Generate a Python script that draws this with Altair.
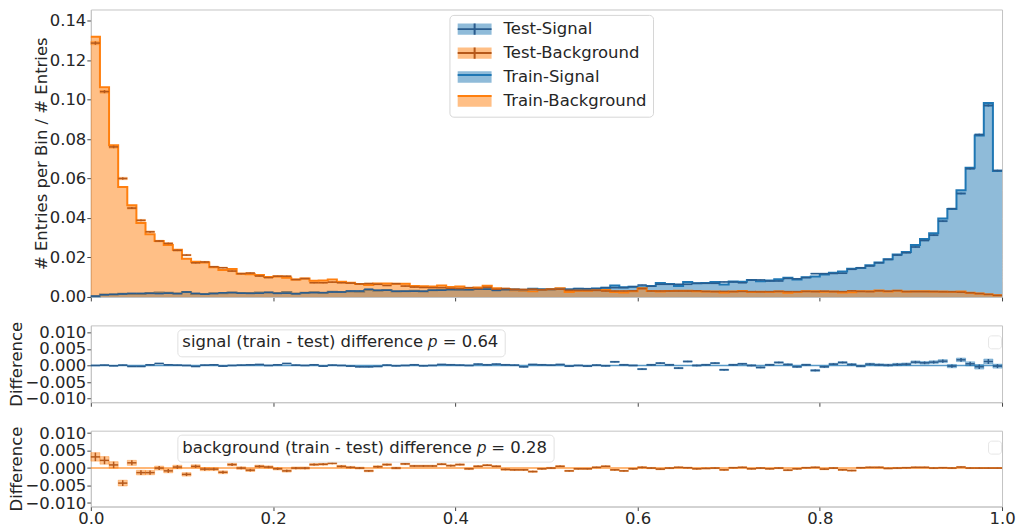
import altair as alt
import numpy as np
import pandas as pd

# ---------------- data ----------------
N_BINS = 100
X_TICKS = [0.0, 0.2, 0.4, 0.6, 0.8, 1.0]
Y_TICKS_TOP = [0.0, 0.02, 0.04, 0.06, 0.08, 0.10, 0.12, 0.14]
Y_TICKS_DIFF = [-0.010, -0.005, 0.0, 0.005, 0.010]

# test histograms (normalised entries per bin), 100 bins on [0, 1]
SIG_TEST = [
    0.0004, 0.0011, 0.0013, 0.0015, 0.0018, 0.0018, 0.0018, 0.0017, 0.0019, 0.0017,
    0.0025, 0.0018, 0.0014, 0.0017, 0.0021, 0.0022, 0.0019, 0.0018, 0.0019, 0.0023,
    0.0018, 0.0019, 0.0016, 0.0021, 0.0022, 0.0022, 0.0025, 0.0025, 0.0030, 0.0030,
    0.0039, 0.0034, 0.0034, 0.0029, 0.0029, 0.0029, 0.0029, 0.0034, 0.0034, 0.0037,
    0.0037, 0.0037, 0.0039, 0.0039, 0.0033, 0.0037, 0.0037, 0.0037, 0.0038, 0.0037,
    0.0038, 0.0039, 0.0039, 0.0042, 0.0042, 0.0042, 0.0047, 0.0047, 0.0047, 0.0052,
    0.0060, 0.0054, 0.0064, 0.0064, 0.0064, 0.0064, 0.0069, 0.0069, 0.0069, 0.0076,
    0.0076, 0.0072, 0.0086, 0.0086, 0.0081, 0.0081, 0.0094, 0.0092, 0.0098, 0.0118,
    0.0118, 0.0119, 0.0120, 0.0140, 0.0148, 0.0157, 0.0173, 0.0190, 0.0212, 0.0224,
    0.0253, 0.0286, 0.0313, 0.0384, 0.0447, 0.0524, 0.0650, 0.0822, 0.0970, 0.0640,
]
BKG_TEST = [
    0.1286, 0.1040, 0.0760, 0.0600, 0.0450, 0.0388, 0.0330, 0.0283, 0.0271, 0.0236,
    0.0212, 0.0173, 0.0177, 0.0153, 0.0148, 0.0131, 0.0118, 0.0121, 0.0106, 0.0098,
    0.0105, 0.0105, 0.0088, 0.0093, 0.0072, 0.0072, 0.0075, 0.0072, 0.0070, 0.0066,
    0.0068, 0.0064, 0.0058, 0.0067, 0.0055, 0.0050, 0.0048, 0.0047, 0.0047, 0.0044,
    0.0043, 0.0047, 0.0043, 0.0049, 0.0039, 0.0043, 0.0039, 0.0038, 0.0039, 0.0037,
    0.0039, 0.0039, 0.0033, 0.0033, 0.0033, 0.0033, 0.0030, 0.0030, 0.0030, 0.0031,
    0.0042, 0.0030, 0.0030, 0.0030, 0.0030, 0.0030, 0.0031, 0.0028, 0.0027, 0.0028,
    0.0027, 0.0028, 0.0027, 0.0026, 0.0027, 0.0028, 0.0027, 0.0027, 0.0028, 0.0027,
    0.0029, 0.0027, 0.0027, 0.0031, 0.0028, 0.0027, 0.0031, 0.0029, 0.0032, 0.0027,
    0.0027, 0.0027, 0.0027, 0.0026, 0.0026, 0.0024, 0.0021, 0.0017, 0.0013, 0.0008,
]
# train - test differences per bin
SIG_DIFF = [
    0.0000, 0.0001, -0.0001, 0.0001, -0.0003, -0.0003, 0.0002, 0.0006, 0.0002, 0.0001,
    0.0000, -0.0003, 0.0001, 0.0002, -0.0002, 0.0000, 0.0001, 0.0002, 0.0003, 0.0000,
    0.0002, 0.0006, 0.0001, 0.0000, 0.0002, -0.0002, 0.0001, 0.0000, -0.0002, -0.0004,
    -0.0004, -0.0003, 0.0001, -0.0001, 0.0000, 0.0002, -0.0001, 0.0000, 0.0003, 0.0002,
    0.0001, 0.0000, 0.0004, 0.0002, 0.0004, 0.0002, 0.0001, -0.0004, 0.0003, 0.0002,
    0.0001, 0.0003, -0.0002, 0.0000, -0.0002, 0.0001, -0.0001, 0.0011, 0.0002, 0.0000,
    -0.0011, 0.0002, 0.0007, 0.0002, -0.0008, 0.0012, 0.0000, 0.0002, 0.0007, -0.0013,
    0.0002, 0.0005, 0.0000, -0.0006, 0.0002, 0.0009, 0.0003, -0.0004, 0.0002, -0.0015,
    -0.0004, 0.0004, 0.0009, 0.0003, -0.0002, 0.0004, 0.0002, 0.0001, 0.0003, 0.0004,
    0.0010, 0.0008, 0.0010, 0.0013, -0.0002, 0.0017, 0.0005, -0.0004, 0.0012, -0.0002,
]
BKG_DIFF = [
    0.0032, 0.0022, 0.0009, -0.0043, 0.0015, -0.0013, -0.0013, 0.0000, -0.0008, 0.0003,
    -0.0018, 0.0005, -0.0003, -0.0003, -0.0012, 0.0010, 0.0000, -0.0006, 0.0005, 0.0003,
    -0.0002, -0.0008, 0.0000, 0.0000, 0.0010, 0.0011, 0.0014, 0.0005, 0.0002, 0.0000,
    -0.0008, 0.0004, 0.0010, 0.0000, 0.0012, 0.0006, 0.0006, 0.0006, 0.0011, 0.0007,
    0.0010, -0.0002, 0.0005, 0.0008, 0.0005, -0.0004, -0.0005, -0.0005, -0.0010, -0.0002,
    0.0000, 0.0005, -0.0008, -0.0002, -0.0002, 0.0002, 0.0005, -0.0005, -0.0008, -0.0002,
    0.0002, 0.0000, -0.0003, 0.0000, 0.0002, 0.0001, -0.0002, -0.0001, 0.0000, -0.0005,
    0.0001, 0.0002, -0.0002, 0.0000, -0.0002, 0.0000, -0.0006, -0.0002, 0.0001, 0.0002,
    -0.0003, 0.0000, -0.0005, -0.0007, 0.0001, 0.0002, 0.0002, -0.0001, 0.0000, 0.0001,
    0.0002, 0.0002, 0.0000, 0.0001, 0.0000, 0.0003, 0.0000, 0.0000, 0.0000, 0.0000,
]
# statistical error scale per series (sigma = K * sqrt(entries))
K_SIG = 0.0017
K_BKG = 0.0024

SERIES = ["Test-Signal", "Test-Background", "Train-Signal", "Train-Background"]
SERIES_GLYPH = [s + " " for s in SERIES]   # keys for the overlaid glyph legend
SIG_NOTE = "signal (train - test) difference \U0001D45D = 0.64"
BKG_NOTE = "background (train - test) difference \U0001D45D = 0.28"

# ---------------- styling ----------------
FONT = "DejaVu Sans"
FS = 16.5
TXT = "#262626"
BLUE, ORANGE = "#1f77b4", "#ff7f0e"
BLUE_L, ORANGE_L = "#8fbbd9", "#ffbf86"
BLUE_D, ORANGE_D = "#2a5b8c", "#b5581a"
W = 913
H_TOP, H_MID, H_BOT = 288, 77, 76

RECT_PATH = "M-2.83,-0.95L2.83,-0.95L2.83,0.95L-2.83,0.95Z"
CROSS_PATH = "M-2.83,0L2.83,0M0,-0.95L0,0.95"
LINE_PATH = "M-2.83,0L2.83,0"

lo = np.arange(N_BINS) / N_BINS
hi = (np.arange(N_BINS) + 1) / N_BINS
ctr = (lo + hi) / 2


def bins_df(test, diff, k):
    test = np.asarray(test, float)
    diff = np.asarray(diff, float)
    err = k * np.sqrt(test)
    derr = np.sqrt(2.0) * err
    return pd.DataFrame({
        "lo": lo, "hi": hi, "c": ctr,
        "test": test, "t_lo": test - err, "t_hi": test + err,
        "diff": diff, "d_lo": diff - derr, "d_hi": diff + derr,
    })


def step_df(test, diff):
    train = np.asarray(test, float) + np.asarray(diff, float)
    xs = list(lo) + [1.0]
    ys = list(train) + [train[-1]]
    return pd.DataFrame({"x": xs, "y": ys})


sig_b = bins_df(SIG_TEST, SIG_DIFF, K_SIG)
bkg_b = bins_df(BKG_TEST, BKG_DIFF, K_BKG)
sig_s = step_df(SIG_TEST, SIG_DIFF)
bkg_s = step_df(BKG_TEST, BKG_DIFF)

XSCALE = alt.Scale(domain=[0, 1], nice=False, zero=False)
X_AXIS_NOLAB = alt.Axis(values=X_TICKS, labels=False, title=None)
X_AXIS_LAB = alt.Axis(values=X_TICKS, format=".1f", title=None, labelPadding=0)


def test_layers(bdf, col, dark, ylo, yhi, yval, xaxis, yscale, yaxis):
    def X(f):
        return alt.X(f"{f}:Q", scale=XSCALE, axis=xaxis)

    def Y(f):
        return alt.Y(f"{f}:Q", scale=yscale, axis=yaxis)

    rect = alt.Chart(bdf).mark_rect(fill=col, fillOpacity=0.45, stroke=col, strokeOpacity=0.35,
                                    strokeWidth=1).encode(
        x=X("lo"), x2="hi:Q", y=Y(ylo), y2=f"{yhi}:Q")
    hbar = alt.Chart(bdf).mark_rule(color=dark, strokeWidth=1.5).encode(
        x=X("lo"), x2="hi:Q", y=Y(yval))
    vbar = alt.Chart(bdf).mark_rule(color=dark, strokeWidth=1.5).encode(
        x=X("c"), y=Y(ylo), y2=f"{yhi}:Q")
    return [rect, hbar, vbar]


# ---------------- top panel ----------------
y_top_scale = alt.Scale(domain=[0, 0.1456], nice=False)
y_top_axis = alt.Axis(values=Y_TICKS_TOP, format=".2f", title="# Entries per Bin / # Entries")


def train_layers(sdf, col):
    enc = dict(x=alt.X("x:Q", scale=XSCALE, axis=X_AXIS_NOLAB),
               y=alt.Y("y:Q", scale=y_top_scale, axis=y_top_axis))
    area = alt.Chart(sdf).mark_area(interpolate="step-after", color=col, opacity=0.5).encode(**enc)
    line = alt.Chart(sdf).mark_line(interpolate="step-after", color=col, strokeWidth=2).encode(**enc)
    return [area, line]


leg_df = pd.DataFrame({"series": SERIES, "series2": SERIES_GLYPH})
LEG_COMMON = dict(title=None, orient="none", legendX=359.3, legendY=5.4, padding=6,
                  symbolSize=144, symbolOffset=11, labelOffset=20.7, rowPadding=4,
                  labelFont=FONT, labelFontSize=FS, symbolOpacity=1, symbolStrokeWidth=2)
leg_fill = alt.Chart(leg_df).mark_point(filled=True, opacity=0).encode(
    fill=alt.Fill("series:N",
                  scale=alt.Scale(domain=SERIES, range=[BLUE_L, ORANGE_L, BLUE_L, ORANGE_L]),
                  legend=alt.Legend(symbolType=RECT_PATH, symbolStrokeColor="transparent",
                                    labelColor=TXT, fillColor="white", strokeColor="#d6d6d6",
                                    cornerRadius=4, **LEG_COMMON)))
# glyph overlay legend: same layout, blank labels
cross_legend = alt.Legend(labelOpacity=0, labelExpr="' '", **LEG_COMMON)
leg_cross = alt.Chart(leg_df).mark_point(filled=False, opacity=0).encode(
    stroke=alt.Stroke("series2:N",
                      scale=alt.Scale(domain=SERIES_GLYPH, range=[BLUE_D, ORANGE_D, BLUE, ORANGE]),
                      legend=cross_legend),
    shape=alt.Shape("series2:N",
                    scale=alt.Scale(domain=SERIES_GLYPH,
                                    range=[CROSS_PATH, CROSS_PATH, LINE_PATH, LINE_PATH]),
                    legend=cross_legend))

top = alt.layer(
    *train_layers(sig_s, BLUE),
    *train_layers(bkg_s, ORANGE),
    *test_layers(sig_b, BLUE, BLUE_D, "t_lo", "t_hi", "test", X_AXIS_NOLAB, y_top_scale, y_top_axis),
    *test_layers(bkg_b, ORANGE, ORANGE_D, "t_lo", "t_hi", "test", X_AXIS_NOLAB, y_top_scale, y_top_axis),
    leg_fill, leg_cross,
).properties(width=W, height=H_TOP)


# ---------------- difference panels ----------------
def diff_panel(bdf, col, dark, note, ydomain, height, show_labels):
    yscale = alt.Scale(domain=ydomain, nice=False, zero=False)
    yaxis = alt.Axis(values=Y_TICKS_DIFF, format=".3f", title="Difference", labelOverlap=False)
    xaxis = X_AXIS_LAB if show_labels else X_AXIS_NOLAB
    zero = alt.Chart(pd.DataFrame({"z": [0.0]})).mark_rule(
        color=col, strokeWidth=1.5, opacity=0.75).encode(
        y=alt.Y("z:Q", scale=yscale, axis=yaxis))
    layers = test_layers(bdf, col, dark, "d_lo", "d_hi", "diff", xaxis, yscale, yaxis)
    note_df = pd.DataFrame({"note": [note], "blank": [" "]})
    note_layer = alt.Chart(note_df).mark_point(filled=True, opacity=0).encode(
        fill=alt.Fill("note:N", scale=alt.Scale(domain=[note], range=["white"]),
                      legend=alt.Legend(title=note, values=[], orient="none",
                                        legendX=86.7, legendY=4, padding=5,
                                        titleFont=FONT, titleFontSize=FS, titleColor=TXT,
                                        titleFontWeight="normal", titleLimit=0, titlePadding=0,
                                        fillColor="white", strokeColor="#e0e0e0",
                                        cornerRadius=4)))
    blank_layer = alt.Chart(note_df).mark_point(filled=False, opacity=0).encode(
        stroke=alt.Stroke("blank:N", scale=alt.Scale(domain=[" "], range=["white"]),
                          legend=alt.Legend(title=None, orient="none", legendX=899, legendY=10,
                                            padding=6, symbolSize=1, symbolOpacity=0,
                                            symbolOffset=0,
                                            symbolStrokeWidth=0, labelOffset=0,
                                            labelFontSize=1, labelOpacity=0,
                                            fillColor="white", strokeColor="#e6e6e6",
                                            cornerRadius=3)))
    return alt.layer(zero, *layers, note_layer, blank_layer).properties(width=W, height=height)


mid = diff_panel(sig_b, BLUE, BLUE_D, SIG_NOTE, [-0.0111, 0.0121], H_MID, False)
bot = diff_panel(bkg_b, ORANGE, ORANGE_D, BKG_NOTE, [-0.0110, 0.0107], H_BOT, True)

chart = alt.vconcat(top, mid, bot, spacing=28.5, bounds="flush").resolve_scale(
    fill="independent", stroke="independent", shape="independent"
).resolve_legend(
    fill="independent", stroke="independent", shape="independent"
).properties(
    padding={"left": 0, "top": 0, "right": 0, "bottom": 0}
).configure_axis(
    labelFont=FONT, labelFontSize=FS, labelColor=TXT,
    titleFont=FONT, titleFontSize=FS, titleFontWeight="normal", titleColor=TXT,
    tickColor="#444444", tickSize=4, tickWidth=1, labelPadding=1, titlePadding=0,
    domainColor="#c4c4c4", grid=False, labelFlush=False, labelOverlap=False,
).configure_view(stroke="#c4c4c4", strokeWidth=1).configure_legend(
    labelFont=FONT, labelFontSize=FS, labelColor=TXT,
)

chart.save("out.html", embed_options={"renderer": "svg", "actions": False})
